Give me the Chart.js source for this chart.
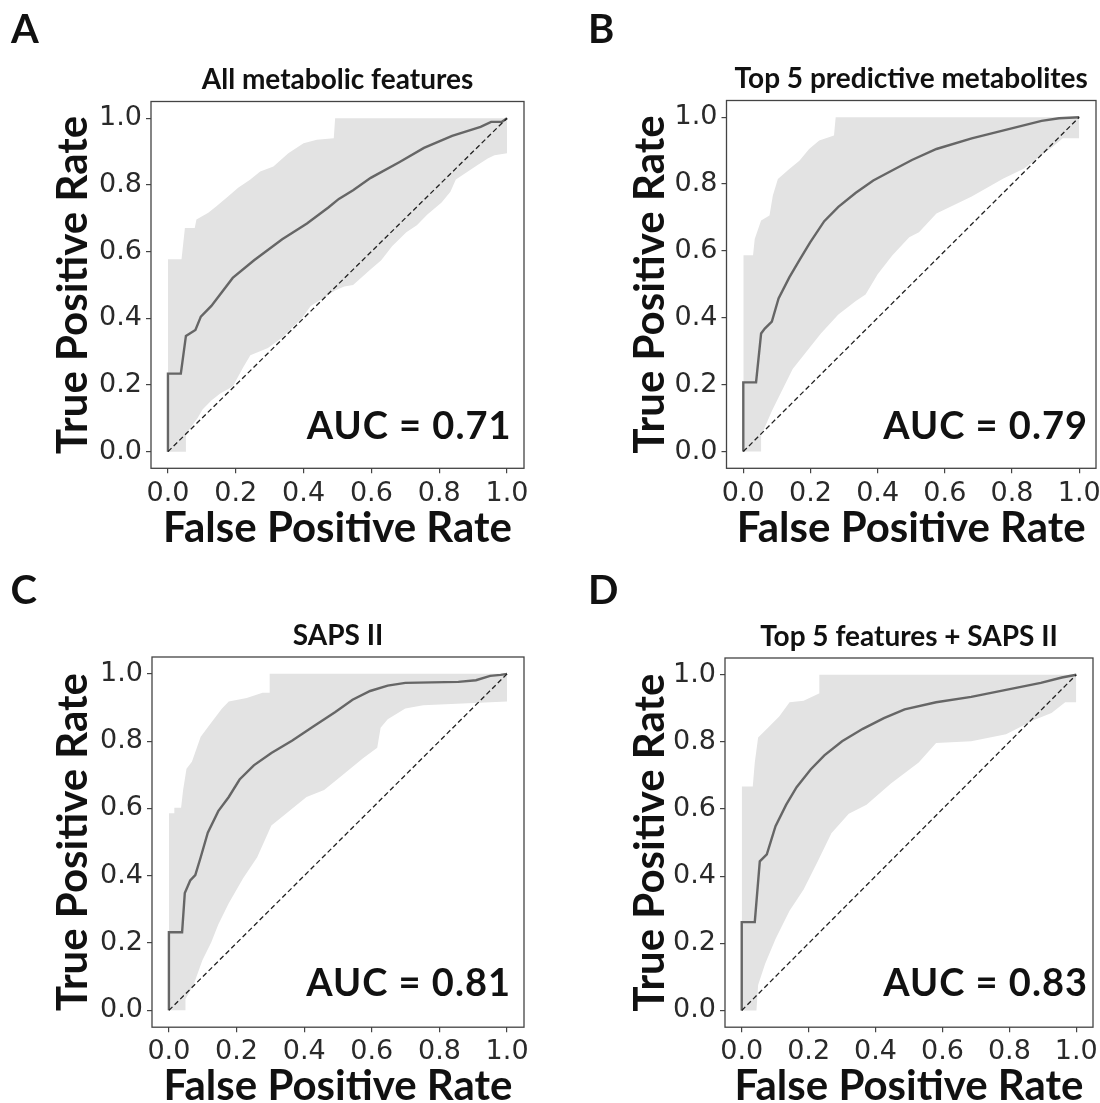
<!DOCTYPE html>
<html>
<head>
<meta charset="utf-8">
<script src="https://cdn.jsdelivr.net/npm/chart.js@4.4.1/dist/chart.umd.min.js"></script>
<style>
  html, body { margin: 0; padding: 0; background: #fff; }
  #wrap { position: relative; width: 1100px; height: 1103px; overflow: hidden; }
  #wrap canvas { position: absolute; }
  .lab { position: absolute; font-family: Lato, sans-serif; font-weight: bold; line-height: 1; color: #111; white-space: nowrap; }
  .letter { font-size: 40px; }
  .auc { font-size: 38px; text-align: right; letter-spacing: 1px; }
</style>
</head>
<body>
<div id="wrap"></div>
<script>
// ==== DATA ====
const tickVals = [0, 0.2, 0.4, 0.6, 0.8, 1.0];
const diagFpr = [0, 1];
const diagTpr = [0, 1];

// A - All metabolic features
const meanFprA = [0, 0, 0.038, 0.053, 0.081, 0.097, 0.128, 0.191, 0.254, 0.337, 0.41, 0.473, 0.504, 0.546, 0.598, 0.682, 0.755, 0.838, 0.922, 0.953, 0.985, 1];
const meanTprA = [0, 0.234, 0.234, 0.347, 0.365, 0.405, 0.437, 0.521, 0.574, 0.637, 0.684, 0.732, 0.758, 0.784, 0.821, 0.868, 0.911, 0.947, 0.974, 0.989, 0.989, 1];
const upFprA = [0, 0.040, 0.050, 0.079, 0.084, 0.119, 0.143, 0.178, 0.207, 0.242, 0.272, 0.311, 0.355, 0.400, 0.439, 0.489, 0.493, 1];
const upTprA = [0.577, 0.577, 0.671, 0.671, 0.696, 0.716, 0.736, 0.766, 0.791, 0.815, 0.840, 0.855, 0.895, 0.925, 0.935, 0.940, 1, 1];
const loFprA = [0, 0.053, 0.053, 0.087, 0.102, 0.128, 0.154, 0.191, 0.222, 0.243, 0.295, 0.337, 0.368, 0.395, 0.421, 0.462, 0.494, 0.52, 0.546, 0.598, 0.629, 0.661, 0.703, 0.734, 0.765, 0.807, 0.833, 0.849, 0.88, 0.911, 0.943, 0.963, 1];
const loTprA = [0, 0, 0.053, 0.1, 0.126, 0.153, 0.174, 0.195, 0.253, 0.289, 0.311, 0.342, 0.374, 0.4, 0.437, 0.463, 0.484, 0.495, 0.5, 0.547, 0.574, 0.616, 0.658, 0.679, 0.711, 0.747, 0.779, 0.816, 0.837, 0.858, 0.879, 0.889, 0.895];

// B - Top 5 predictive metabolites
const meanFprB = [0, 0, 0.038, 0.053, 0.064, 0.085, 0.105, 0.137, 0.168, 0.199, 0.241, 0.283, 0.335, 0.387, 0.44, 0.502, 0.575, 0.68, 0.784, 0.888, 0.94, 1];
const meanTprB = [0, 0.207, 0.207, 0.353, 0.368, 0.389, 0.458, 0.521, 0.574, 0.626, 0.689, 0.732, 0.774, 0.811, 0.839, 0.872, 0.905, 0.937, 0.963, 0.989, 0.997, 1];
const upFprB = [0, 0.029, 0.034, 0.053, 0.078, 0.088, 0.103, 0.137, 0.167, 0.196, 0.226, 0.270, 0.275, 1];
const upTprB = [0.587, 0.587, 0.636, 0.691, 0.706, 0.766, 0.815, 0.845, 0.870, 0.905, 0.930, 0.945, 1, 1];
const loFprB = [0, 0.053, 0.053, 0.085, 0.116, 0.147, 0.189, 0.231, 0.283, 0.335, 0.364, 0.40, 0.444, 0.494, 0.523, 0.575, 0.68, 0.773, 0.836, 0.92, 0.951, 1];
const loTprB = [0, 0, 0.047, 0.121, 0.184, 0.247, 0.3, 0.353, 0.41, 0.45, 0.47, 0.53, 0.587, 0.641, 0.656, 0.712, 0.763, 0.816, 0.847, 0.911, 0.937, 0.937];

// C - SAPS II
const meanFprC = [0, 0, 0.039, 0.047, 0.063, 0.078, 0.094, 0.115, 0.146, 0.177, 0.209, 0.251, 0.303, 0.365, 0.428, 0.491, 0.543, 0.595, 0.647, 0.699, 0.856, 0.908, 0.95, 0.981, 1];
const meanTprC = [0, 0.232, 0.232, 0.349, 0.386, 0.402, 0.455, 0.528, 0.592, 0.634, 0.686, 0.728, 0.765, 0.802, 0.844, 0.886, 0.923, 0.949, 0.965, 0.973, 0.976, 0.981, 0.994, 0.997, 1];
const upFprC = [0, 0.016, 0.016, 0.036, 0.042, 0.052, 0.068, 0.094, 0.125, 0.157, 0.177, 0.23, 0.277, 0.297, 0.298, 1];
const upTprC = [0.586, 0.586, 0.602, 0.602, 0.655, 0.718, 0.739, 0.813, 0.855, 0.897, 0.918, 0.928, 0.944, 0.944, 1, 1];
const loFprC = [0, 0.049, 0.049, 0.073, 0.099, 0.125, 0.146, 0.177, 0.219, 0.261, 0.303, 0.355, 0.407, 0.459, 0.511, 0.574, 0.616, 0.626, 0.647, 0.699, 0.752, 1];
const loTprC = [0, 0, 0.034, 0.076, 0.149, 0.202, 0.255, 0.318, 0.392, 0.455, 0.549, 0.592, 0.634, 0.655, 0.697, 0.749, 0.78, 0.84, 0.865, 0.897, 0.907, 0.918];

// D - Top 5 features + SAPS II
const meanFprD = [0, 0, 0.039, 0.054, 0.075, 0.101, 0.133, 0.164, 0.206, 0.247, 0.3, 0.362, 0.425, 0.487, 0.581, 0.686, 0.79, 0.894, 0.957, 1];
const meanTprD = [0, 0.263, 0.263, 0.444, 0.465, 0.549, 0.613, 0.665, 0.718, 0.76, 0.802, 0.839, 0.871, 0.897, 0.918, 0.934, 0.955, 0.976, 0.992, 1];
const upFprD = [0, 0.033, 0.039, 0.049, 0.08, 0.112, 0.143, 0.185, 0.231, 0.232, 1];
const upTprD = [0.667, 0.667, 0.739, 0.813, 0.844, 0.876, 0.918, 0.923, 0.944, 1, 1];
const loFprD = [0, 0.044, 0.049, 0.07, 0.101, 0.143, 0.185, 0.227, 0.268, 0.32, 0.373, 0.446, 0.529, 0.581, 0.686, 0.79, 0.874, 0.926, 0.967, 1];
const loTprD = [0, 0, 0.076, 0.139, 0.213, 0.297, 0.36, 0.444, 0.528, 0.586, 0.613, 0.676, 0.739, 0.797, 0.802, 0.823, 0.865, 0.886, 0.918, 0.918];

const titles = ['All metabolic features', 'Top 5 predictive metabolites', 'SAPS II', 'Top 5 features + SAPS II'];
const aucLabels = ['AUC = 0.71', 'AUC = 0.79', 'AUC = 0.81', 'AUC = 0.83'];
const letters = ['A', 'B', 'C', 'D'];

// ==== LAYOUT ====
const W = 550, H = 580;
const AX_FONT = 42, TITLE_FONT = 28, TICK_FONT = 27;
const panels = [
  { ox: 0,   oy: 0,   area: {l: 151, r: 524, t: 101.5, b: 468.3}, titleMid: 79.6, yMid: 73.8,  xMid: 528.4, aucRight: 511.5, aucBase: 439, letX: 11,  letBase: 43.3,
    mean: [meanFprA, meanTprA], up: [upFprA, upTprA], lo: [loFprA, loTprA] },
  { ox: 550, oy: 0,   area: {l: 176.5, r: 546, t: 100.5, b: 468.3}, titleMid: 79, yMid: 100.3, xMid: 528.4, aucRight: 1088, aucBase: 439, letX: 588, letBase: 43.3,
    mean: [meanFprB, meanTprB], up: [upFprB, upTprB], lo: [loFprB, loTprB] },
  { ox: 0,   oy: 551, area: {l: 152, r: 524, t: 106, b: 476.2}, titleMid: 85, yMid: 73.8,  xMid: 535.9, aucRight: 511, aucBase: 996, letX: 10.5, letBase: 604,
    mean: [meanFprC, meanTprC], up: [upFprC, upTprC], lo: [loFprC, loTprC] },
  { ox: 550, oy: 551, area: {l: 175, r: 543, t: 107, b: 476.2}, titleMid: 86, yMid: 100.3, xMid: 535.9, aucRight: 1088, aucBase: 996, letX: 588, letBase: 604,
    mean: [meanFprD, meanTprD], up: [upFprD, upTprD], lo: [loFprD, loTprD] }
];

function pts(xs, ys) { return xs.map((x, i) => ({x: x, y: ys[i]})); }

// full box around the plotting area
const framePlugin = {
  id: 'frame',
  afterDraw(chart) {
    const a = chart.chartArea, ctx = chart.ctx;
    ctx.save();
    ctx.strokeStyle = '#444';
    ctx.lineWidth = 1.3;
    ctx.strokeRect(a.left, a.top, a.right - a.left, a.bottom - a.top);
    ctx.restore();
  }
};

const wrap = document.getElementById('wrap');

panels.forEach((p, i) => {
  const cv = document.createElement('canvas');
  cv.width = W; cv.height = H;
  cv.style.left = p.ox + 'px'; cv.style.top = p.oy + 'px';
  cv.style.width = W + 'px'; cv.style.height = H + 'px';
  wrap.appendChild(cv);

  const g = p.area;
  const tLH = TITLE_FONT * 1.2;
  const tPadTop = p.titleMid - tLH / 2;
  const tPadBottom = g.t - tPadTop - tLH;

  const tickStyle = {
    font: {family: "'DejaVu Sans'", size: TICK_FONT},
    color: '#2a2a2a',
    padding: 4,
    callback: v => v.toFixed(1)
  };
  const gridStyle = {display: true, drawOnChartArea: false, drawTicks: true, tickLength: 5, color: '#444', lineWidth: 1.2};

  new Chart(cv, {
    type: 'scatter',
    data: {
      datasets: [
        { data: pts(p.up[0], p.up[1]), showLine: true, fill: '+1', backgroundColor: '#e3e3e3',
          borderWidth: 0, borderColor: 'rgba(0,0,0,0)', pointRadius: 0, order: 2 },
        { data: pts(p.lo[0], p.lo[1]), showLine: true, fill: false,
          borderWidth: 0, borderColor: 'rgba(0,0,0,0)', pointRadius: 0, order: 3 },
        { data: pts(p.mean[0], p.mean[1]), showLine: true, borderColor: '#666', borderWidth: 2.4,
          pointRadius: 0, order: 1 },
        { data: pts(diagFpr, diagTpr), showLine: true, borderColor: '#222', borderWidth: 1.3,
          borderDash: [5, 3], pointRadius: 0, order: 0 }
      ]
    },
    options: {
      responsive: false,
      animation: false,
      layout: {padding: {top: 0, left: 0, bottom: 0, right: W - g.r}},
      plugins: {
        legend: {display: false},
        tooltip: {enabled: false},
        title: {
          display: true, text: titles[i], fullSize: false, color: '#111',
          font: {family: 'Lato', weight: 'bold', size: TITLE_FONT, lineHeight: 1.2},
          padding: {top: tPadTop, bottom: tPadBottom}
        }
      },
      scales: {
        x: {
          type: 'linear', min: -0.05, max: 1.05,
          afterBuildTicks: s => { s.ticks = tickVals.map(v => ({value: v})); },
          afterFit: s => { s.height = H - g.b; s.paddingLeft = 0; s.paddingRight = 0; },
          ticks: tickStyle, grid: gridStyle, border: {display: false},
          title: {display: true, text: 'False Positive Rate', color: '#111',
                  font: {family: 'Lato', weight: 'bold', size: AX_FONT, lineHeight: 1},
                  padding: {top: 0, bottom: H - p.xMid - AX_FONT / 2}}
        },
        y: {
          type: 'linear', min: -0.05, max: 1.05,
          afterBuildTicks: s => { s.ticks = tickVals.map(v => ({value: v})); },
          afterFit: s => { s.width = g.l; s.paddingTop = 0; s.paddingBottom = 0; },
          ticks: tickStyle, grid: gridStyle, border: {display: false},
          title: {display: true, text: 'True Positive Rate', color: '#111',
                  font: {family: 'Lato', weight: 'bold', size: AX_FONT, lineHeight: 1},
                  padding: {top: p.yMid - AX_FONT / 2, bottom: 0}}
        }
      }
    },
    plugins: [framePlugin]
  });

  // panel letter
  const L = document.createElement('div');
  L.className = 'lab letter';
  L.textContent = letters[i];
  L.style.left = p.letX + 'px';
  L.style.top = (p.letBase - 0.887 * 40) + 'px';
  wrap.appendChild(L);

  // AUC annotation
  const A = document.createElement('div');
  A.className = 'lab auc';
  A.textContent = aucLabels[i];
  A.style.right = (1100 - p.aucRight) + 'px';
  A.style.top = (p.aucBase - 0.887 * 38) + 'px';
  wrap.appendChild(A);
});
</script>
</body>
</html>
